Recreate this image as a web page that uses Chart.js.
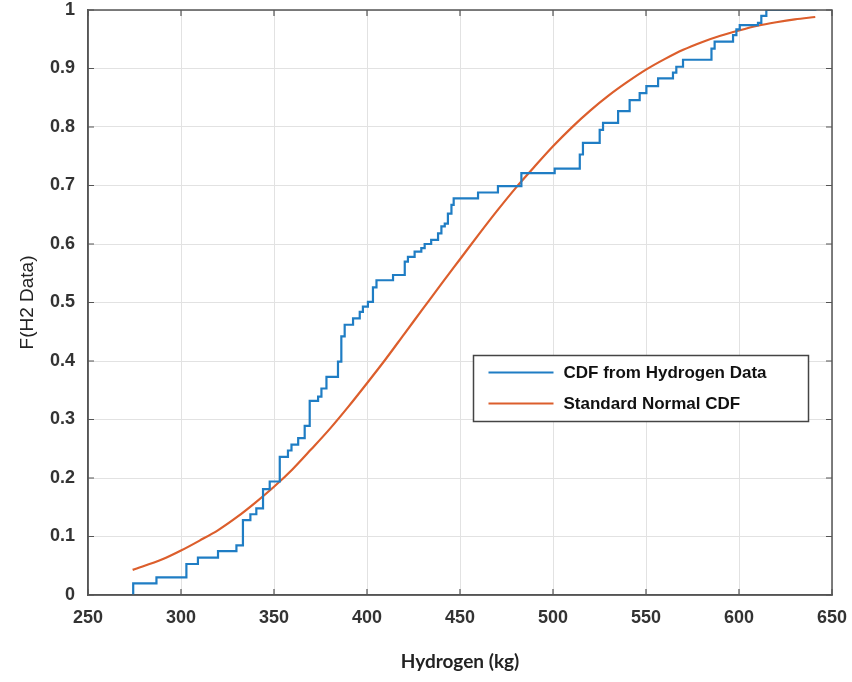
<!DOCTYPE html>
<html lang="en">
<head>
  <meta charset="UTF-8">
  <title>Hydrogen CDF</title>
  <script src="https://cdn.jsdelivr.net/npm/chart.js"></script>
  <style>
    body { margin: 0; background: #fff; }
    #chart { display: block; }
  </style>
</head>
<body>
<canvas id="chart" width="852" height="682"></canvas>
<script>
const hydrogenX = [274.3, 274.3, 286.8, 302.9, 309.1, 319.9, 329.8, 333.3, 337.3, 340.5, 344.1, 347.7, 353.1, 357.5, 359.4, 363.0, 366.5, 369.2, 373.7, 375.5, 378.2, 384.4, 386.2, 388.0, 392.5, 396.1, 397.8, 400.5, 403.2, 405.1, 414.0, 420.3, 422.0, 425.6, 429.2, 431.0, 434.5, 438.2, 440.0, 441.8, 443.5, 445.4, 446.6, 459.7, 470.4, 483.0, 500.9, 514.4, 516.1, 525.1, 526.9, 535.0, 541.2, 546.6, 550.2, 556.5, 564.5, 566.3, 569.9, 585.2, 586.9, 596.8, 598.6, 600.4, 610.2, 612.0, 614.7, 641.6];
const hydrogenF = [0, 0.01, 0.02, 0.03, 0.053, 0.064, 0.075, 0.085, 0.128, 0.138, 0.148, 0.181, 0.194, 0.236, 0.247, 0.257, 0.268, 0.289, 0.332, 0.339, 0.353, 0.373, 0.399, 0.442, 0.462, 0.473, 0.484, 0.493, 0.501, 0.526, 0.538, 0.547, 0.570, 0.578, 0.587, 0.593, 0.600, 0.607, 0.618, 0.630, 0.635, 0.652, 0.667, 0.678, 0.688, 0.699, 0.721, 0.729, 0.753, 0.773, 0.795, 0.807, 0.827, 0.846, 0.858, 0.870, 0.883, 0.893, 0.903, 0.915, 0.934, 0.946, 0.957, 0.967, 0.974, 0.978, 0.990, 1.0];

// fitted normal curve
const normalX = [274, 290, 300, 310, 320, 330, 340, 350, 360, 370, 380, 390, 400, 410, 420, 430, 440, 450, 460, 470, 480, 490, 500, 510, 520, 530, 540, 550, 560, 570, 580, 590, 600, 610, 620, 630, 641];
const normalF = [0.043, 0.061, 0.076, 0.093, 0.111, 0.133, 0.158, 0.185, 0.215, 0.249, 0.284, 0.322, 0.362, 0.403, 0.446, 0.489, 0.532, 0.574, 0.616, 0.657, 0.696, 0.732, 0.767, 0.799, 0.828, 0.854, 0.877, 0.898, 0.916, 0.932, 0.945, 0.956, 0.965, 0.973, 0.979, 0.984, 0.988];

const seriesNames = ["CDF from Hydrogen Data", "Standard Normal CDF"];
const seriesColors = ["#1f7dc4", "#dc5e2c"];

const tickFont = { family: "'Liberation Sans', Arial, sans-serif", size: 18, weight: "bold" };
const axisColor = "#555";

// box around the plot + inward tick marks (matlab style)
const boxPlugin = {
  id: "box",
  afterDatasetsDraw(chart) {
    const { ctx, chartArea: a, scales } = chart;
    ctx.save();
    ctx.strokeStyle = axisColor;
    ctx.lineWidth = 1.5;
    ctx.strokeRect(a.left, a.top, a.right - a.left, a.bottom - a.top);
    ctx.lineWidth = 1.2;
    ctx.beginPath();
    scales.x.ticks.forEach(t => {
      const px = scales.x.getPixelForValue(t.value);
      ctx.moveTo(px, a.bottom); ctx.lineTo(px, a.bottom - 6);
      ctx.moveTo(px, a.top); ctx.lineTo(px, a.top + 6);
    });
    scales.y.ticks.forEach(t => {
      const py = scales.y.getPixelForValue(t.value);
      ctx.moveTo(a.left, py); ctx.lineTo(a.left + 6, py);
      ctx.moveTo(a.right, py); ctx.lineTo(a.right - 6, py);
    });
    ctx.stroke();
    ctx.restore();
  }
};

// legend box inside the plot
const legendPlugin = {
  id: "insideLegend",
  afterDraw(chart) {
    const { ctx } = chart;
    const x = 473.5, y = 355.5, w = 335, h = 66;
    ctx.save();
    ctx.fillStyle = "#fff";
    ctx.fillRect(x, y, w, h);
    ctx.strokeStyle = "#444";
    ctx.lineWidth = 1.5;
    ctx.strokeRect(x, y, w, h);
    ctx.font = "bold 17px 'Liberation Sans', Arial, sans-serif";
    ctx.textBaseline = "middle";
    chart.data.datasets.forEach((ds, i) => {
      const ly = y + 17 + i * 31;
      ctx.strokeStyle = ds.borderColor;
      ctx.lineWidth = 2;
      ctx.beginPath();
      ctx.moveTo(x + 15, ly);
      ctx.lineTo(x + 80, ly);
      ctx.stroke();
      ctx.fillStyle = "#111";
      ctx.fillText(ds.label, x + 90, ly + 1);
    });
    ctx.restore();
  }
};

new Chart(document.getElementById("chart"), {
  type: "line",
  data: {
    datasets: [
      {
        label: seriesNames[0],
        data: hydrogenX.map((x, i) => ({ x: x, y: hydrogenF[i] })),
        borderColor: seriesColors[0],
        borderWidth: 2.2,
        stepped: "after",
        pointRadius: 0
      },
      {
        label: seriesNames[1],
        data: normalX.map((x, i) => ({ x: x, y: normalF[i] })),
        borderColor: seriesColors[1],
        borderWidth: 2.2,
        tension: 0.4,
        cubicInterpolationMode: "monotone",
        pointRadius: 0
      }
    ]
  },
  options: {
    responsive: false,
    animation: false,
    layout: { padding: { top: 10, right: 20, left: 0, bottom: 0 } },
    plugins: { legend: { display: false }, tooltip: { enabled: false } },
    scales: {
      x: {
        type: "linear",
        min: 250,
        max: 650,
        afterFit(scale) {
          scale.height = 87;
          scale.paddingLeft = 0;
          scale.paddingRight = 0;
        },
        ticks: { stepSize: 50, font: tickFont, color: "#333", padding: 12, maxRotation: 0 },
        grid: { color: "#e2e2e2", drawTicks: false },
        border: { color: axisColor, width: 1.5 },
        title: {
          display: true,
          text: "Hydrogen (kg)",
          font: { family: "Lato, 'Open Sans', sans-serif", size: 19, weight: "bold" },
          color: "#222",
          padding: { top: 0, bottom: 9 }
        }
      },
      y: {
        min: 0,
        max: 1,
        afterFit(scale) {
          scale.width = 88;
          scale.paddingTop = 0;
          scale.paddingBottom = 0;
        },
        ticks: {
          stepSize: 0.1,
          font: tickFont,
          color: "#333",
          padding: 13,
          callback: v => String(Number(v.toFixed(1)))
        },
        grid: { color: "#e2e2e2", drawTicks: false },
        border: { color: axisColor, width: 1.5 },
        title: {
          display: true,
          text: "F(H2 Data)",
          font: { family: "'Liberation Sans', Arial, sans-serif", size: 19 },
          color: "#222",
          padding: { top: 16, bottom: 0 }
        }
      }
    }
  },
  plugins: [boxPlugin, legendPlugin]
});
</script>
</body>
</html>
